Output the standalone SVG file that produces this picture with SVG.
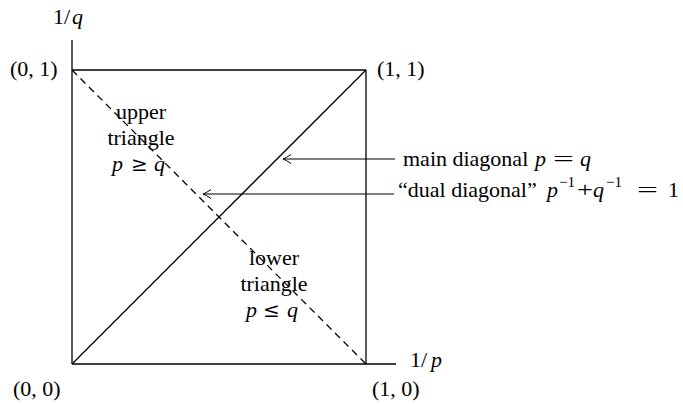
<svg xmlns="http://www.w3.org/2000/svg" width="683" height="404" viewBox="0 0 683 404">
<style>
  text { font-family: "Liberation Serif", "Times New Roman", serif; font-size: 22px; fill: #000; }
  .it { font-style: italic; }
  .sup { font-size: 15px; }
  .rel { font-family: "DejaVu Serif", serif; font-size: 20px; }
  .ln { stroke: #000; stroke-width: 1.3; fill: none; }
  .dash { stroke-dasharray: 7 5; }
  .arr { stroke: #000; stroke-width: 1; fill: none; marker-end: url(#open); }
  .mid { text-anchor: middle; }
</style>
<defs>
  <marker id="open" markerUnits="userSpaceOnUse" markerWidth="12" markerHeight="12" viewBox="-9 -6 10 12" refX="0" refY="0" orient="auto">
    <path d="M -8 -4.5 Q -3 -1 0 0 Q -3 1 -8 4.5" fill="none" stroke="#000" stroke-width="1"/>
  </marker>
</defs>
<g id="axes">
  <line class="ln" x1="72" y1="40" x2="72" y2="364"/>
  <line class="ln" x1="72" y1="364" x2="396" y2="364"/>
  <line class="ln" x1="72" y1="70" x2="366" y2="70"/>
  <line class="ln" x1="366" y1="70" x2="366" y2="364"/>
</g>
<g id="main-diagonal">
  <line class="ln" x1="72" y1="364" x2="366" y2="70"/>
</g>
<g id="dual-diagonal">
  <line class="ln dash" x1="72" y1="70" x2="366" y2="364"/>
</g>
<g id="axis-labels">
  <text x="53" y="24">1</text><text x="64" y="24">/</text><text class="it" x="72" y="24">q</text>
  <text x="410" y="367">1</text><text x="421" y="367">/</text><text class="it" x="431" y="367">p</text>
</g>
<g id="corner-labels">
  <text x="10" y="76">(0, 1)</text>
  <text x="377" y="76">(1, 1)</text>
  <text x="13" y="396">(0, 0)</text>
  <text x="372" y="396">(1, 0)</text>
</g>
<g id="upper-triangle">
  <text class="mid" x="141" y="119">upper</text>
  <text class="mid" x="141" y="145">triangle</text>
  <text class="it" x="112" y="171">p</text>
  <text class="rel" x="131" y="171">≥</text>
  <text class="it" x="154" y="171">q</text>
</g>
<g id="lower-triangle">
  <text class="mid" x="274" y="265">lower</text>
  <text class="mid" x="274" y="291">triangle</text>
  <text class="it" x="246" y="317">p</text>
  <text class="rel" x="263" y="317">≤</text>
  <text class="it" x="287" y="317">q</text>
</g>
<g id="connectors">
  <line class="arr" x1="395" y1="159" x2="283" y2="159"/>
  <line class="arr" x1="394" y1="194" x2="203" y2="194"/>
</g>
<g id="label-main">
  <text x="403" y="166">main diagonal</text>
  <text class="it" x="535" y="166">p</text>
  <text x="553" y="166" textLength="21" lengthAdjust="spacingAndGlyphs">=</text>
  <text class="it" x="580" y="166">q</text>
</g>
<g id="label-dual">
  <text x="398" y="197">“dual diagonal”</text>
  <text class="it" x="547" y="197">p</text>
  <text class="sup" x="559" y="187">−1</text>
  <text x="577" y="197" textLength="16" lengthAdjust="spacingAndGlyphs">+</text>
  <text class="it" x="593" y="197">q</text>
  <text class="sup" x="606" y="187">−1</text>
  <text x="637" y="197" textLength="21" lengthAdjust="spacingAndGlyphs">=</text>
  <text x="668" y="197">1</text>
</g>
</svg>
